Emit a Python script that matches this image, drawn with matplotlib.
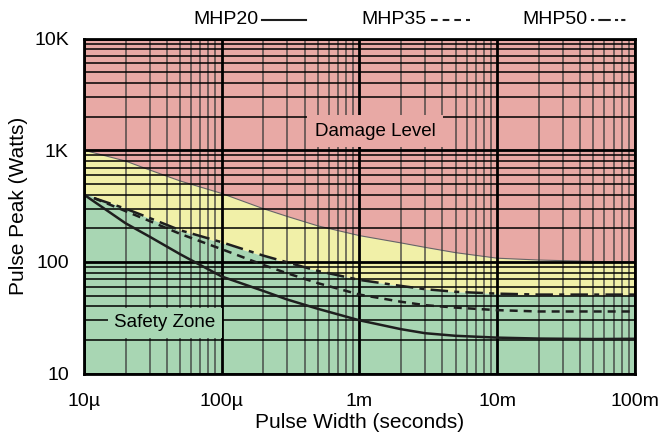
import matplotlib
matplotlib.use("Agg")
import matplotlib.pyplot as plt
import matplotlib.ticker as mticker
from matplotlib.lines import Line2D

plt.rcParams['font.family'] = ['Liberation Sans', 'DejaVu Sans']

# pulse width (s) and read-off values (W)
width = [1e-5, 2e-5, 3e-5, 5e-5, 1e-4, 2e-4, 3e-4, 5e-4, 1e-3, 2e-3, 3e-3, 5e-3, 1e-2, 2e-2, 5e-2, 1e-1]
damage = [1000, 800, 665, 530, 410, 300, 255, 210, 172, 148, 135, 121, 108, 104, 101, 100]
safe = [413, 300, 245, 190, 148, 113, 98, 83, 69, 61, 57, 54, 52, 50.5, 50, 50]

mhp20 = [400, 222, 168, 117, 74, 55, 46, 38, 30, 25, 23, 21.8, 21, 20.6, 20.4, 20.5]

width_b = [1.18e-5, 2e-5, 3e-5, 5e-5, 1e-4, 2e-4, 3e-4, 5e-4, 1e-3, 2e-3, 3e-3, 5e-3, 1e-2, 2e-2, 5e-2, 1e-1]
mhp35 = [373, 285, 232, 178, 130, 94, 79, 64.5, 51, 44, 41, 39, 37, 36, 36, 36]
mhp50 = [373, 300, 247, 192, 150, 114, 99, 83, 69, 61, 57, 54, 52, 51, 51, 51]

xticks = [1e-5, 1e-4, 1e-3, 1e-2, 1e-1]
xlabels = ['10\u00b5', '100\u00b5', '1m', '10m', '100m']
yticks = [10, 100, 1000, 10000]
ylabels = ['10', '100', '1K', '10K']

red = '#e8a9a5'
yellow = '#f1f0a8'
green = '#a8d6b3'
ink = '#1e1e1e'

fig = plt.figure(figsize=(6.62, 4.38), dpi=100)
ax = fig.add_axes([0.127, 0.147, 0.832, 0.765])
ax.set_xscale('log')
ax.set_yscale('log')
ax.set_xlim(1e-5, 1e-1)
ax.set_ylim(10, 10000)

# zones
ax.fill_between(width, damage, 10000, color=red, lw=0, zorder=0.2)
ax.fill_between(width, safe, damage, color=yellow, lw=0, zorder=0.2)
ax.fill_between(width, 10, safe, color=green, lw=0, zorder=0.2)
ax.plot(width, damage, color='#666666', lw=0.8, zorder=0.3)

# grid
ax.set_axisbelow(True)
ax.xaxis.set_minor_locator(mticker.LogLocator(base=10, subs=range(2, 10)))
ax.yaxis.set_minor_locator(mticker.LogLocator(base=10, subs=range(2, 10)))
ax.xaxis.set_minor_formatter(mticker.NullFormatter())
ax.yaxis.set_minor_formatter(mticker.NullFormatter())
ax.grid(which='major', axis='both', color='black', lw=2.0)
ax.grid(which='minor', axis='y', color='black', lw=1.1)
ax.grid(which='minor', axis='x', color='#3a3a3a', lw=1.2, alpha=0.8)

# curves
dash35 = (0, (3.2, 2.4))
dash50 = (0, (7, 2.5, 2, 2.5))
ax.plot(width, mhp20, color=ink, lw=1.8, solid_capstyle='butt')
ax.plot(width_b, mhp35, color=ink, lw=1.8, linestyle=dash35)
ax.plot(width_b, mhp50, color=ink, lw=1.8, linestyle=dash50)

ax.set_xticks(xticks)
ax.set_xticklabels(xlabels)
ax.set_yticks(yticks)
ax.set_yticklabels(ylabels)
ax.tick_params(which='both', length=0, labelsize=14)
ax.tick_params(axis='x', pad=14)
ax.tick_params(axis='y', pad=11)
for s in ax.spines.values():
    s.set_linewidth(2)
    s.set_color('black')

ax.set_xlabel('Pulse Width (seconds)', fontsize=15, labelpad=2)
ax.set_ylabel('Pulse Peak (Watts)', fontsize=15, labelpad=4)

ax.text(1.3e-3, 1485, 'Damage Level', fontsize=13.5, ha='center', va='center', zorder=3,
        bbox=dict(boxstyle='square,pad=0.4', fc=red, ec='none'))
ax.text(3.87e-5, 28.4, 'Safety Zone', fontsize=13.5, ha='center', va='center', zorder=3,
        bbox=dict(boxstyle='square,pad=0.35', fc=green, ec='none'))

# legend along the top
W, H = 662.0, 438.0
legend = [('MHP20', 193, 262, 306, '-'),
          ('MHP35', 361, 431, 470, dash35),
          ('MHP50', 522, 591, 636, (0, (1.5, 2, 6, 2, 1.5)))]
for name, tx, l0, l1, ls in legend:
    fig.text(tx / W, 1 - 20 / H, name, fontsize=14, ha='left', va='center')
    fig.add_artist(Line2D([l0 / W, l1 / W], [1 - 20 / H, 1 - 20 / H], color=ink,
                          lw=1.5, linestyle=ls, transform=fig.transFigure))

fig.savefig('out.png', dpi=100)
